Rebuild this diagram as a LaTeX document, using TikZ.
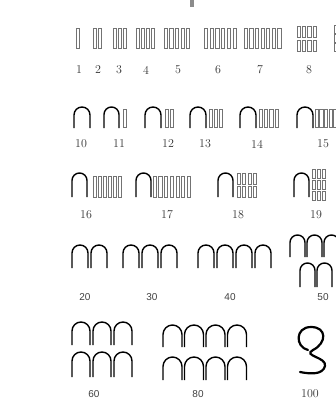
\documentclass[tikz,border=0pt]{standalone}
\usepackage{fontspec}
\newfontfamily\labsans{Liberation Sans}
% row of unit strokes: x, top, count, pitch, height
\newcommand{\barrow}[5]{\foreach \k in {1,...,#3}
  \draw[unitbar] ({#1+(\k-1)*#4},#2) rectangle ++(3.2,-#5);}
% row of arches (tens): x, top, count, pitch, width, height
\newcommand{\archrow}[6]{\foreach \k in {1,...,#3}
  \draw[archline] ({#1+(\k-1)*#4},{#2-#6}) -- ++(0,{#6-#5/2})
    arc[start angle=180,end angle=0,radius={#5/2}] -- ++(0,{#5/2-#6});}
\begin{document}
\begin{tikzpicture}[x=1pt,y=1pt,
  unitbar/.style={draw=black!55,line width=.6pt,fill=white},
  archline/.style={black,line width=1.4pt},
  numlab/.style={text=black!80,font=\fontsize{12}{14}\selectfont,inner sep=0pt},
  sanslab/.style={text=black!75,font=\labsans\fontsize{10}{12}\selectfont,inner sep=0pt}]
\useasboundingbox (0,0) rectangle (336,-415);
\fill[black!45] (190,0) rectangle (194,-7);
% units
\barrow{76.5}{-28}{1}{5}{20} \barrow{93}{-28}{2}{5}{20} \barrow{113}{-28}{3}{5}{20}
\barrow{136}{-28}{4}{5}{20} \barrow{164}{-28}{5}{5.6}{20} \barrow{204}{-28}{6}{5.8}{20}
\barrow{244}{-28}{7}{5.6}{20}
\barrow{297}{-26}{4}{5.3}{11} \barrow{297}{-40}{4}{5.3}{11}
\barrow{334}{-25}{1}{5}{8} \barrow{334}{-34}{1}{5}{8} \barrow{334}{-43}{1}{5}{8}
\node[numlab] (n1) at (79,-70){1}; \node[numlab] (n2) at (98,-70){2};
\node[numlab] (n3) at (119,-70){3}; \node[numlab] (n4) at (146,-70){4};
\node[numlab] (n5) at (178,-70){5}; \node[numlab] (n6) at (218,-70){6};
\node[numlab] (n7) at (260,-70){7}; \node[numlab] (n8) at (309,-70){8};
% 10 - 15
\archrow{74}{-107}{1}{0}{16}{21} \archrow{104}{-107}{1}{0}{15}{21}
\archrow{145}{-107}{1}{0}{16}{21} \archrow{190}{-107}{1}{0}{16}{21}
\archrow{240}{-107}{1}{0}{16}{21} \archrow{297}{-107}{1}{0}{16}{21}
\barrow{123.5}{-109}{1}{5}{18} \barrow{165}{-109}{2}{5.5}{18}
\barrow{209}{-109}{3}{5}{18} \barrow{259}{-109}{4}{5.3}{18}
\barrow{315}{-109}{5}{4.6}{18}
\node[numlab] (n10) at (81,-144){10}; \node[numlab] (n11) at (119,-144){11};
\node[numlab] (n12) at (168,-144){12}; \node[numlab] (n13) at (205,-144){13};
\node[numlab] (n14) at (257,-144){14}; \node[numlab] (n15) at (323,-144){15};
% 16 - 19
\archrow{72}{-173}{1}{0}{15}{24} \archrow{136}{-173}{1}{0}{15}{24}
\archrow{218}{-173}{1}{0}{15}{24} \archrow{294}{-173}{1}{0}{15}{24}
\barrow{93}{-176}{6}{5}{21} \barrow{153}{-176}{7}{5.7}{21}
\barrow{237}{-173}{4}{5.5}{11} \barrow{237}{-186}{4}{5.5}{11}
\barrow{312}{-169}{3}{5}{9} \barrow{312}{-180}{3}{5}{9} \barrow{312}{-191}{3}{5}{9}
\node[numlab] (n16) at (86,-215){16}; \node[numlab] (n17) at (167,-215){17};
\node[numlab] (n18) at (238,-215){18}; \node[numlab] (n19) at (316,-215){19};
% tens
\archrow{72}{-245}{2}{19}{16}{23} \archrow{123}{-245}{3}{19}{16}{23}
\archrow{198}{-245}{4}{19}{16}{23}
\archrow{290}{-235}{3}{17}{15}{22} \archrow{300}{-263}{2}{17}{15}{24}
\node[sanslab] (n20) at (85,-297){20}; \node[sanslab] (n30) at (152,-297){30};
\node[sanslab] (n40) at (230,-297){40}; \node[sanslab] (n50) at (323,-297){50};
\archrow{72}{-322}{3}{21}{18}{23} \archrow{72}{-352}{3}{21}{18}{25}
\archrow{163}{-325}{4}{21.5}{19}{22} \archrow{163}{-357}{4}{21.5}{19}{23}
% hundred
\draw[line width=2.2pt,line cap=round] (308,-350) .. controls (295,-347) and (295,-327) .. (311,-327)
  .. controls (327,-327) and (327,-343) .. (313,-350) .. controls (302,-356) and (327,-357) .. (325,-366)
  .. controls (323,-375) and (310,-374) .. (300,-372);
\node[sanslab] (n60) at (94,-394){60}; \node[sanslab] (n80) at (198,-394){80};
\node[numlab] (n100) at (310,-394){100};
\end{tikzpicture}
\end{document}
